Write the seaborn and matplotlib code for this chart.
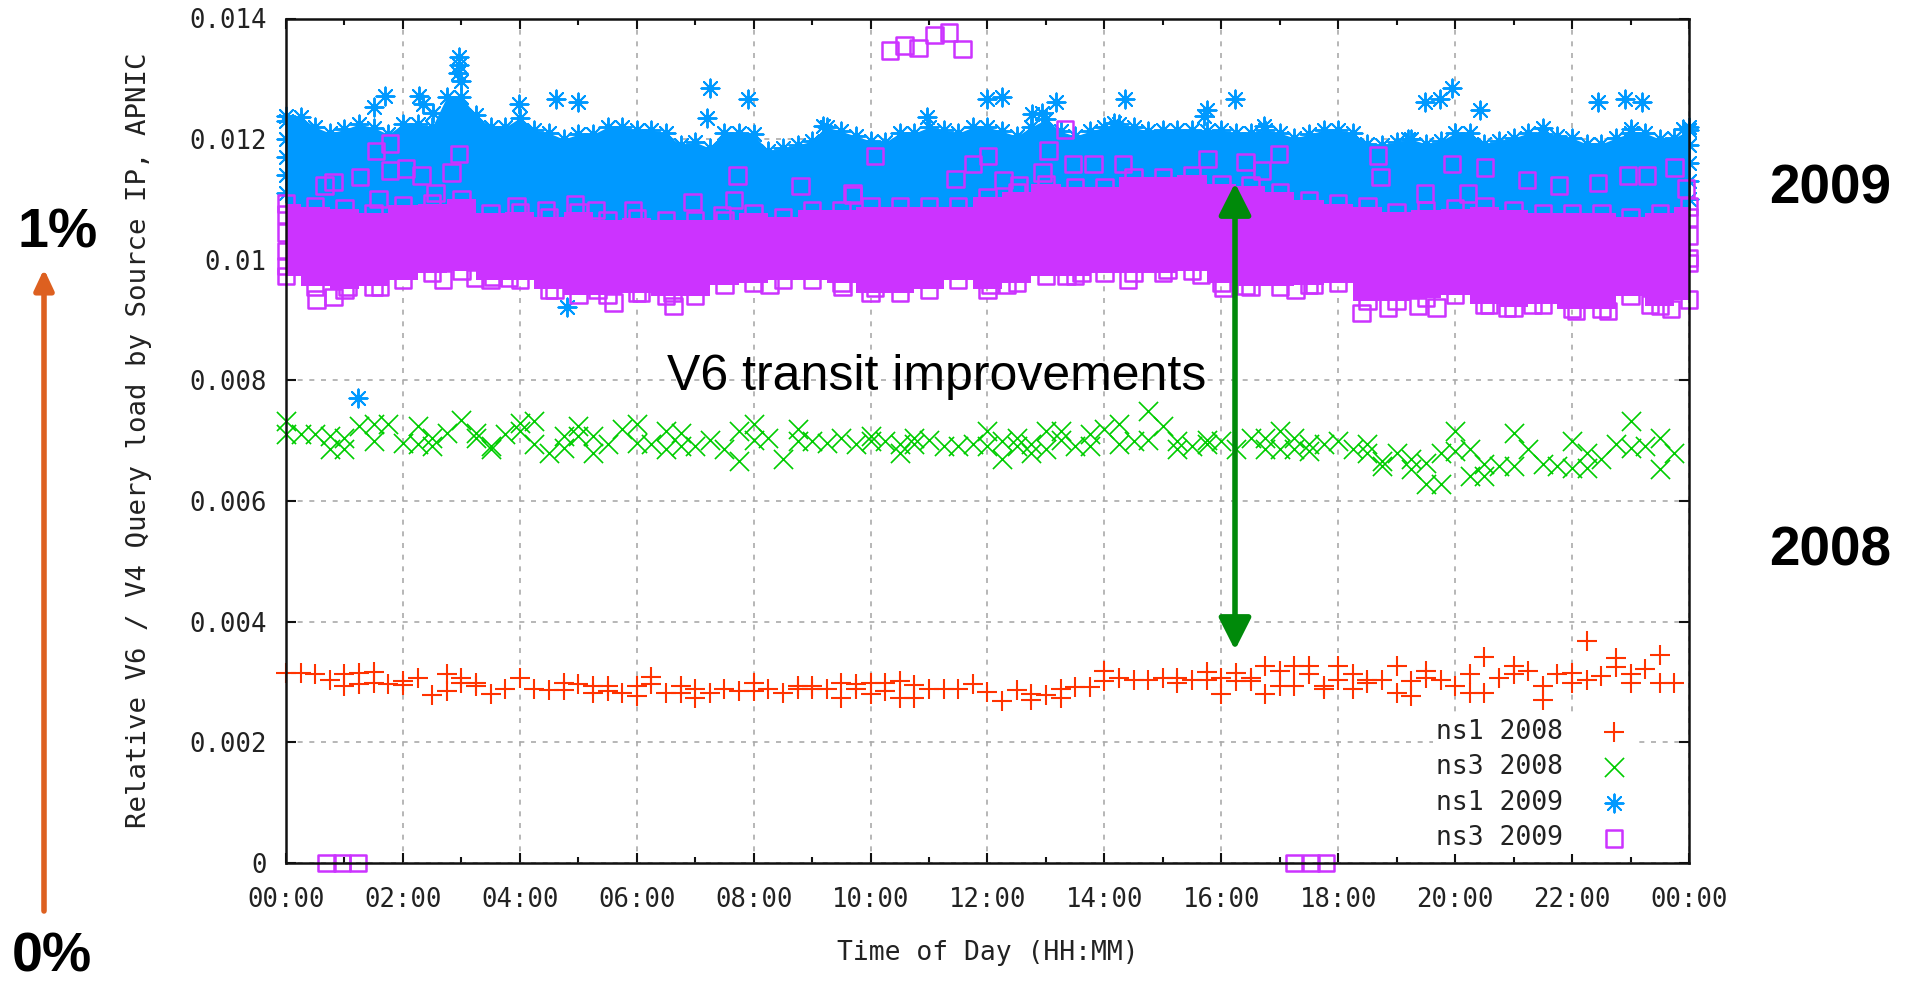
import numpy as np
import matplotlib
matplotlib.use("Agg")
import matplotlib.pyplot as plt
import seaborn as sns

n = np.nan
# All query-load values are in thousandths (0.001).
# 2008 series: quarter-hour samples, up to two readings per slot.
ns1_2008_a = [3.155,3.15,3.13,3.04,3.13,3.155,3.17,2.96,3.02,3.07,2.78,3.13,3.07,2.99,2.80,2.88,
              3.07,2.88,2.86,2.99,2.97,2.93,2.93,2.82,2.93,3.08,2.82,2.93,2.88,2.81,2.88,2.85,
              2.99,2.88,2.82,2.93,2.93,2.88,2.99,2.96,2.99,2.99,3.02,2.95,2.88,2.88,2.88,2.97,
              2.84,2.68,2.86,2.71,2.78,2.88,2.92,2.92,3.18,3.07,3.03,3.03,3.07,3.07,3.04,3.17,
              3.07,3.155,3.07,3.27,3.18,3.27,3.27,2.93,3.27,3.13,3.04,3.04,3.27,3.02,3.19,3.04,
              2.93,3.13,3.41,3.07,3.27,3.19,2.93,3.14,3.155,3.68,3.10,3.40,3.13,3.21,3.45,2.99]
ns1_2008_b = [n,n,n,n,2.93,2.96,2.99,n,2.95,n,n,2.85,2.99,2.93,n,n,
              n,n,n,2.86,n,2.82,2.85,n,2.77,2.96,n,2.81,2.73,n,n,n,
              2.85,n,n,2.88,2.88,n,2.73,2.88,2.80,2.85,2.73,2.73,n,n,n,n,
              n,n,n,2.80,n,2.74,n,n,3.02,n,n,n,n,2.99,n,3.04,
              2.80,3.02,3.02,2.80,2.93,2.93,3.14,2.88,3.04,2.88,2.99,n,2.82,2.77,3.07,n,
              n,2.82,2.81,n,3.13,n,2.71,n,2.99,3.04,n,3.25,2.99,n,2.99,n]
ns3_2008_a = [7.33,7.105,7.105,7.08,7.05,7.24,7.27,7.27,6.97,7.24,7.05,7.13,7.35,7.13,6.86,7.105,
              7.30,7.33,6.80,7.08,7.24,7.08,6.94,7.19,7.27,6.94,7.16,7.13,6.91,7.02,6.86,7.16,
              7.27,7.05,6.69,7.19,6.99,6.97,7.05,6.94,7.08,6.99,6.94,7.05,7.02,6.91,6.91,6.94,
              7.16,6.99,7.05,6.94,7.16,7.16,6.91,7.105,7.19,7.27,6.99,7.50,7.24,6.99,6.91,7.02,
              6.99,6.86,7.05,7.05,7.16,7.05,6.94,6.94,6.99,6.86,6.94,6.66,6.80,6.69,6.635,6.80,
              7.16,6.86,6.61,6.58,7.13,6.86,6.61,6.58,6.99,6.80,6.69,6.94,7.33,6.91,7.05,6.80]
ns3_2008_b = [7.105,n,n,6.86,6.86,n,6.99,n,n,6.94,6.91,n,n,7.05,6.91,n,
              7.16,6.94,n,6.88,7.08,6.80,n,n,6.97,n,6.86,6.91,n,n,n,6.66,
              7.02,n,n,6.99,n,n,n,n,6.99,n,6.80,6.94,n,n,n,n,
              6.91,6.69,6.91,6.80,6.86,7.02,n,6.91,n,6.94,n,7.02,n,6.86,n,6.94,
              n,n,n,6.86,6.86,6.86,6.83,n,n,n,6.80,6.58,n,6.525,6.28,6.28,
              6.83,6.41,6.41,n,6.58,n,n,n,6.55,6.55,n,n,6.88,n,6.525,n]
# ns1 2009: too dense to separate, so the solid band is kept as its upper edge per quarter hour.
ns1_2009_top = [12.38,12.36,12.2,12.1,12.16,12.25,12.19,12.08,12.25,12.25,12.2,12.7,12.7,12.4,12.2,12.2,
                12.35,12.15,12.1,12.0,12.08,12.08,12.2,12.2,12.15,12.15,12.1,11.9,11.95,11.85,12.1,12.1,
                12.08,11.8,11.85,11.9,11.97,12.2,12.13,12.05,11.97,11.95,12.1,12.1,12.2,12.15,12.1,12.2,
                12.2,12.13,12.05,12.2,12.33,12.13,12.05,12.13,12.2,12.25,12.2,12.13,12.15,12.15,12.15,12.13,
                12.15,12.1,12.1,12.15,12.1,12.02,12.08,12.15,12.15,12.1,11.92,11.9,11.95,12.0,11.92,11.97,
                12.1,12.1,11.92,11.97,12.02,12.1,12.08,12.05,12.02,11.92,11.92,12.02,12.1,12.1,12.0,12.02,12.15]
# Separate ns1 2009 points standing clear of the band.
ns1_2009_hours = [2.96,2.95,2.96,3.0,1.70,1.51,2.27,2.51,2.35,3.98,4.62,4.99,7.26,7.20,7.91,9.18,4.81,1.23,
                  12.0,12.24,10.97,12.76,12.93,13.18,14.35,14.17,15.75,15.70,16.23,19.48,19.74,19.95,20.42,
                  22.44,22.91,23.19,19.19,21.5,23.0,23.9,16.73,0,0,0,0,0,24,24,24,24,24]
ns1_2009_vals = [13.37,13.10,13.23,12.96,12.71,12.53,12.71,12.44,12.58,12.58,12.66,12.61,12.84,12.35,12.66,12.22,9.22,7.71,
                 12.67,12.70,12.36,12.41,12.44,12.62,12.66,12.26,12.49,12.38,12.66,12.61,12.67,12.84,12.48,
                 12.61,12.66,12.61,12.0,12.18,12.16,12.16,12.22,12.3,12.0,11.7,11.4,11.1,12.2,11.9,11.6,11.3,11.0]
# ns3 2009: solid band edges per half hour.
ns3_2009_top = [10.93,10.88,10.85,10.77,10.9,10.93,11.01,10.77,10.79,10.71,10.79,10.66,10.69,10.66,10.66,10.66,
                10.77,10.71,10.82,10.82,10.88,10.88,10.88,10.88,11.04,11.12,11.26,11.2,11.2,11.37,11.37,11.4,
                11.26,11.23,11.12,10.99,10.93,10.88,10.79,10.82,10.85,10.88,10.82,10.77,10.77,10.77,10.71,10.77,10.88]
ns3_2009_bottom = [9.73,9.56,9.51,9.56,9.67,9.78,9.81,9.67,9.67,9.51,9.42,9.42,9.45,9.4,9.4,9.59,
                   9.62,9.67,9.67,9.62,9.45,9.45,9.51,9.67,9.51,9.62,9.73,9.73,9.78,9.78,9.78,9.81,
                   9.62,9.56,9.56,9.59,9.62,9.32,9.32,9.37,9.42,9.26,9.21,9.26,9.18,9.18,9.4,9.23,9.34]
# Separate ns3 2009 points.
ns3_2009_hours = [10.33,10.58,10.82,11.09,11.34,11.57,0.69,0.96,1.23,17.24,17.53,17.79,
                  1.54,1.78,1.78,2.05,2.32,1.27,0.81,0.66,2.96,2.83,1.58,2.56,7.72,8.80,6.95,7.66,3.94,4.94,4.45,5.94,5.30,7.46,9.69,
                  10.08,9.70,11.75,12.01,13.04,13.33,11.45,12.27,12.54,14.32,13.46,13.81,12.94,
                  15.76,16.41,16.99,16.70,18.68,19.95,20.51,21.23,18.72,22.44,22.96,23.28,23.75,21.78,19.48,20.22,23.95,
                  0.52,0.81,1.05,1.61,2.69,3.23,3.54,3.81,4.59,5.60,6.63,6.61,8.27,9.52,5.33,6.07,
                  10.08,14.40,12.04,12.33,16.04,16.41,17.27,17.59,18.40,18.85,19.36,19.68,20.58,20.89,22.07,22.61,23.33,23.69,
                  24,21.32,15.08,15.65,13.35,13.61,0,0,0,0,24,24,24]
ns3_2009_vals = [13.47,13.55,13.51,13.73,13.77,13.49,0,0,0,0,0,0,
                 11.80,11.93,11.48,11.51,11.40,11.37,11.29,11.23,11.75,11.45,11.01,11.11,11.40,11.22,10.96,10.99,10.88,10.92,10.83,10.82,10.83,10.74,11.10,
                 11.72,11.07,11.59,11.72,11.81,12.16,11.34,11.32,11.23,11.59,11.59,11.59,11.45,
                 11.67,11.62,11.75,11.48,11.73,11.59,11.53,11.32,11.37,11.27,11.40,11.40,11.53,11.23,11.10,11.10,11.18,
                 9.34,9.38,9.56,9.56,9.67,9.70,9.71,9.70,9.51,9.29,9.23,9.45,9.58,9.56,9.51,9.45,
                 9.53,9.67,9.59,9.59,9.53,9.57,9.51,9.59,9.12,9.21,9.23,9.21,9.26,9.21,9.15,9.15,9.26,9.18,
                 10.03,9.26,9.84,9.75,9.73,9.78,10.75,10.45,10.15,9.9,10.7,10.4,9.95]

x_tick_labels = ["00:00","02:00","04:00","06:00","08:00","10:00","12:00","14:00","16:00","18:00","20:00","22:00","00:00"]
y_tick_values = [0, 2, 4, 6, 8, 10, 12, 14]
y_tick_labels = ["0","0.002","0.004","0.006","0.008","0.01","0.012","0.014"]

RED, GREEN, BLUE, MAGENTA = "#ff3300", "#00cc00", "#0099ff", "#cc33ff"
W, H = 1915, 981
MONO = "DejaVu Sans Mono"
ARIAL = "Liberation Sans"
TICK_FS = 18.5

sns.set_theme(style="white")
fig = plt.figure(figsize=(W/100, H/100), dpi=100, facecolor="white")
ax = fig.add_axes([286/W, 1-863/H, (1689-286)/W, (863-18.5)/H])
ax.set_axisbelow(True)

quarter = np.arange(97)*0.25
half = np.arange(49)*0.5
q96 = quarter[:96]

def pts(x, y, marker, s, color, lw, z, label=None):
    sns.scatterplot(x=np.asarray(x), y=np.asarray(y)/1000, marker=marker, s=s, color=color,
                    linewidth=lw, ax=ax, clip_on=False, zorder=z, label=label, legend=False)

def squares(x, y, label=None):
    sns.scatterplot(x=np.asarray(x), y=np.asarray(y)/1000, marker="s", s=140, facecolors="none",
                    edgecolor=MAGENTA, linewidth=1.8, ax=ax, clip_on=False, zorder=5,
                    label=label, legend=False)

STAR = (8, 2, 0)
pts(q96, ns1_2008_a, "+", 200, RED, 1.5, 3, "ns1 2008")
pts(q96, ns1_2008_b, "+", 200, RED, 1.5, 3)
pts(q96, ns3_2008_a, "x", 190, GREEN, 1.2, 3, "ns3 2008")
pts(q96, ns3_2008_b, "x", 190, GREEN, 1.2, 3)

ax.fill_between(quarter, np.asarray(ns1_2009_top)/1000, 0.0105, color=BLUE, lw=0, zorder=4)
pts(quarter, ns1_2009_top, STAR, 170, BLUE, 1.4, 4, "ns1 2009")
pts(ns1_2009_hours, ns1_2009_vals, STAR, 170, BLUE, 1.4, 4)

ax.fill_between(half, np.asarray(ns3_2009_bottom)/1000, np.asarray(ns3_2009_top)/1000,
                step="mid", color=MAGENTA, lw=0, zorder=5)
squares(ns3_2009_hours, ns3_2009_vals, "ns3 2009")
squares(half, ns3_2009_top)
squares(half, ns3_2009_bottom)

ax.set_xlim(0, 24)
ax.set_ylim(0, 0.014)
ax.set_xticks(np.arange(0, 25, 2))
ax.set_xticks(np.arange(1, 24, 2), minor=True)
ax.set_xticklabels(x_tick_labels, family=MONO, fontsize=TICK_FS, color="#222222")
ax.set_yticks(np.asarray(y_tick_values)/1000)
ax.set_yticklabels(y_tick_labels, family=MONO, fontsize=TICK_FS, color="#222222")
ax.tick_params(which="major", direction="in", length=7, width=1.5, top=True, right=True, bottom=True, left=True, color="#111111")
ax.tick_params(which="minor", direction="in", length=4, width=1.5, top=True, bottom=True, color="#111111")
ax.tick_params(axis="x", which="major", pad=17)
ax.tick_params(axis="y", which="major", pad=14)
ax.grid(True, which="major", color="#aaaaaa", linestyle=(0, (3, 4)), linewidth=1.2)
for sp in ax.spines.values():
    sp.set_visible(True)
    sp.set_color("#111111")
    sp.set_linewidth(1.8)
    sp.set_zorder(8)

ax.set_xlabel("Time of Day (HH:MM)", family=MONO, fontsize=TICK_FS+0.5, color="#222222", va="center")
ax.xaxis.set_label_coords(0.5, -(953-863)/844.5)
ax.set_ylabel("Relative V6 / V4 Query load by Source IP, APNIC", family=MONO, fontsize=19.7, color="#222222", va="center")
ax.yaxis.set_label_coords((139-286)/1403, 0.5)

handles, labels = ax.get_legend_handles_labels()
leg = ax.legend(handles, labels, loc="lower right", bbox_to_anchor=((1634-286)/1403, 9/844.5),
                prop={"family": MONO, "size": 19}, labelcolor="#222222", frameon=True, facecolor="white",
                edgecolor="none", framealpha=1, fancybox=False, markerfirst=False, labelspacing=0.36,
                handletextpad=1.3, handlelength=1.3, borderpad=0.1, borderaxespad=0, scatterpoints=1)
leg.set_zorder(2.6)

def px_text(x, y, s, **kw):
    fig.text(x/W, 1-y/H, s, ha="center", va="center", **kw)

px_text(937, 377, "V6 transit improvements", family=ARIAL, fontsize=36, color="black", zorder=20)
px_text(1830, 190, "2009", family=ARIAL, fontsize=39.5, fontweight="bold", color="black")
px_text(1830, 552, "2008", family=ARIAL, fontsize=39.5, fontweight="bold", color="black")
px_text(58, 233, "1%", family=ARIAL, fontsize=40, fontweight="bold", color="black")
px_text(52, 957, "0%", family=ARIAL, fontsize=40, fontweight="bold", color="black")

ax.annotate("", xy=(1235, H-183), xytext=(1235, H-650), xycoords="figure pixels", textcoords="figure pixels",
            arrowprops=dict(arrowstyle="<|-|>,head_length=0.97,head_width=0.49", mutation_scale=20, lw=4,
                            color="#008a0a", shrinkA=0, shrinkB=0), zorder=12, annotation_clip=False)
ax.annotate("", xy=(44, H-269), xytext=(44, H-911), xycoords="figure pixels", textcoords="figure pixels",
            arrowprops=dict(arrowstyle="-|>,head_length=0.62,head_width=0.29", mutation_scale=20, lw=4,
                            color="#dd6020", shrinkA=0, shrinkB=0), zorder=12, annotation_clip=False)

fig.savefig("out.png", dpi=100, facecolor="white")
